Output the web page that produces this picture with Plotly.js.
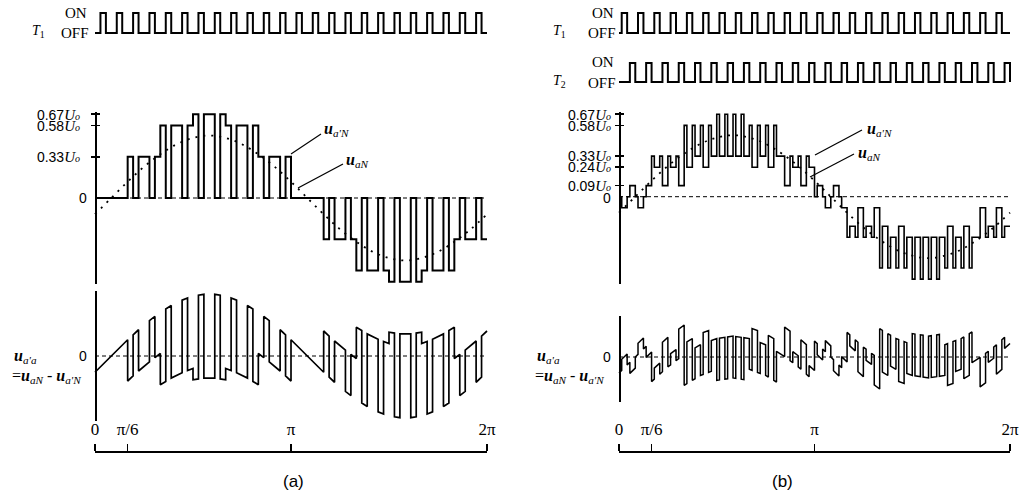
<!DOCTYPE html>
<html><head><meta charset="utf-8">
<script src="https://cdn.plot.ly/plotly-3.0.1.min.js"></script>
<style>html,body{margin:0;padding:0;background:#fff}</style>
</head><body><div id="chart" style="width:1022px;height:498px"></div>
<script>
// ---------- values (angle in degrees, voltage in units of Uo) ----------
const sectorStart = [0, 30, 60, 90, 120, 150, 180, 210, 240, 270, 300, 330];

// panel (a): switch T1 ON/OFF instants
const aT1on  = [5, 20, 35, 50, 65, 80, 95, 110, 125, 140, 155, 170, 185, 200, 215, 230, 245, 260, 275, 290, 305, 320, 335, 350];
const aT1off = [10, 25, 40, 55, 70, 85, 100, 115, 130, 145, 160, 175, 190, 205, 220, 235, 250, 265, 280, 295, 310, 325, 340, 355];
// panel (a): u_a'N level in each 30° sector, T1 OFF / T1 ON
const aLevelOff = [0, 0.33, 0.58, 0.67, 0.58, 0.33, 0, -0.33, -0.58, -0.67, -0.58, -0.33];
const aLevelT1  = [0, 0, 0, 0, 0, 0, 0, 0, 0, 0, 0, 0];

// panel (b): switches T1 and T2 ON/OFF instants
const bT1on  = [2.5, 17.5, 32.5, 47.5, 62.5, 77.5, 92.5, 107.5, 122.5, 137.5, 152.5, 167.5, 182.5, 197.5, 212.5, 227.5, 242.5, 257.5, 272.5, 287.5, 302.5, 317.5, 332.5, 347.5];
const bT1off = [7.5, 22.5, 37.5, 52.5, 67.5, 82.5, 97.5, 112.5, 127.5, 142.5, 157.5, 172.5, 187.5, 202.5, 217.5, 232.5, 247.5, 262.5, 277.5, 292.5, 307.5, 322.5, 337.5, 352.5];
const bT2on  = [10, 25, 40, 55, 70, 85, 100, 115, 130, 145, 160, 175, 190, 205, 220, 235, 250, 265, 280, 295, 310, 325, 340, 355];
const bT2off = [15, 30, 45, 60, 75, 90, 105, 120, 135, 150, 165, 180, 195, 210, 225, 240, 255, 270, 285, 300, 315, 330, 345, 360];
// panel (b): u_a'N level in each sector: both OFF / T1 ON / T2 ON
const bLevelOff = [0, 0.33, 0.58, 0.67, 0.58, 0.33, 0, -0.33, -0.58, -0.67, -0.58, -0.33];
const bLevelT1  = [-0.09, 0.24, 0.24, 0.33, 0.24, 0.09, 0.09, -0.24, -0.24, -0.33, -0.24, -0.09];
const bLevelT2  = [0.09, 0.09, 0.33, 0.33, 0.33, 0.24, -0.09, -0.09, -0.33, -0.33, -0.33, -0.24];

// dotted u_aN read every 15°
const uaNdeg = [0, 15, 30, 45, 60, 75, 90, 105, 120, 135, 150, 165, 180, 195, 210, 225, 240, 255, 270, 285, 300, 315, 330, 345, 360];
const uaNval = [-0.13, 0, 0.13, 0.25, 0.35, 0.43, 0.48, 0.5, 0.48, 0.43, 0.35, 0.25, 0.13, 0, -0.13, -0.25, -0.35, -0.43, -0.48, -0.5, -0.48, -0.43, -0.35, -0.25, -0.13];

// axis labels
const xTickVals = [0, 30, 180, 360];
const xTickText = ['0', 'π/6', 'π', '2π'];
const aYTicks = [0.33, 0.58, 0.67];
const bYTicks = [0.09, 0.24, 0.33, 0.58, 0.67];

// ---------- helpers ----------
const W = 1022, H = 498;
const fx = p => p / W, fy = p => 1 - p / H;
const dom = (top, bot) => [fy(bot), fy(top)];
const pad = 3, kA = 392 / 360, kB = 391 / 360;

function isOn(t, on, off) { for (let i = 0; i < on.length; i++) if (t > on[i] && t < off[i]) return true; return false; }
function sectorOf(t) { let s = 0; for (let i = 0; i < sectorStart.length; i++) if (t >= sectorStart[i]) s = i; return s; }
function edgesOf(...lists) { const set = new Set([0, 360]); lists.forEach(l => l.forEach(v => set.add(v))); return [...set].sort((a, b) => a - b); }
function uaNat(t) { let i = Math.min(Math.floor(t / 15), uaNdeg.length - 2); const f = (t - uaNdeg[i]) / (uaNdeg[i + 1] - uaNdeg[i]); return uaNval[i] + (uaNval[i + 1] - uaNval[i]) * f; }
function steps(edges, level) { const xs = [], ys = []; for (let i = 0; i < edges.length - 1; i++) { xs.push(edges[i]); ys.push(level((edges[i] + edges[i + 1]) / 2)); } xs.push(360); ys.push(ys[ys.length - 1]); return { xs, ys }; }
// u_a'a = u_aN - u_a'N (relation given in the chart)
function diff(edges, level) { const xs = [], ys = []; for (let i = 0; i < edges.length - 1; i++) { const t0 = edges[i], t1 = edges[i + 1], L = level((t0 + t1) / 2); xs.push(t0, t1); ys.push(uaNat(t0) - L, uaNat(t1) - L); } return { xs, ys }; }
function pulse(on, off) { const xs = [0], ys = [0]; for (let i = 0; i < on.length; i++) { xs.push(on[i], off[i]); ys.push(1, 0); } if (xs[xs.length - 1] < 360) { xs.push(360); ys.push(0); } return { xs, ys }; }

const aLevel = t => { const s = sectorOf(t); return isOn(t, aT1on, aT1off) ? aLevelT1[s] : aLevelOff[s]; };
const bLevel = t => { const s = sectorOf(t); if (isOn(t, bT1on, bT1off)) return bLevelT1[s]; if (isOn(t, bT2on, bT2off)) return bLevelT2[s]; return bLevelOff[s]; };
const aEdges = edgesOf(sectorStart, aT1on, aT1off);
const bEdges = edgesOf(sectorStart, bT1on, bT1off, bT2on, bT2off);

const aStep = steps(aEdges, aLevel), bStep = steps(bEdges, bLevel);
const aDiff = diff(aEdges, aLevel), bDiff = diff(bEdges, bLevel);
const pA1 = pulse(aT1on, aT1off), pB1 = pulse(bT1on, bT1off), pB2 = pulse(bT2on, bT2off);

const K = '#000';
const sq = (p, xa, ya, w) => ({ x: p.xs, y: p.ys, xaxis: xa, yaxis: ya, mode: 'lines', line: { color: K, width: w || 2, shape: 'hv' }, hoverinfo: 'skip' });
const dotted = (xa, ya) => ({ x: uaNdeg, y: uaNval, xaxis: xa, yaxis: ya, mode: 'lines', line: { color: K, width: 1.8, dash: '2px,6px', shape: 'spline', smoothing: 1 }, hoverinfo: 'skip' });
const empty = (xa, ya) => ({ x: [], y: [], xaxis: xa, yaxis: ya, mode: 'lines', hoverinfo: 'skip' });

const traces = [
  sq(pA1, 'x', 'y'),
  dotted('x', 'y2'),
  sq(aStep, 'x', 'y2', 2),
  { x: aDiff.xs, y: aDiff.ys, xaxis: 'x', yaxis: 'y3', mode: 'lines', line: { color: K, width: 1.7 }, hoverinfo: 'skip' },
  sq(pB1, 'x2', 'y4'),
  sq(pB2, 'x2', 'y5'),
  dotted('x2', 'y6'),
  sq(bStep, 'x2', 'y6', 1.6),
  { x: bDiff.xs, y: bDiff.ys, xaxis: 'x2', yaxis: 'y7', mode: 'lines', line: { color: K, width: 1.5 }, hoverinfo: 'skip' },
  empty('x3', 'y8'), empty('x4', 'y8'), empty('x', 'y9'), empty('x2', 'y10')
];

const yLab = v => `<span style="font-family:Liberation Sans;font-size:14px">${v.toFixed(2)}</span><i>U</i><span style="font-size:10px"><i>o</i></span>`;
const tickFont = { family: 'Liberation Serif', size: 15, color: K };
const hidden = { visible: false, fixedrange: true };
const xA = Object.assign({ domain: [fx(95 - pad * kA), fx(487 + pad * kA)], range: [-pad, 360 + pad] }, hidden);
const xB = Object.assign({ domain: [fx(619 - pad * kB), fx(1010 + pad * kB)], range: [-pad, 360 + pad] }, hidden);
const bracket = (d) => ({ domain: d, range: [0, 360], anchor: 'y8', side: 'top', showline: true, linecolor: K, linewidth: 1.6, ticks: 'outside', ticklen: 7, tickwidth: 1.6, tickcolor: K, tickvals: xTickVals, ticktext: xTickText, tickfont: { family: 'Liberation Serif', size: 17, color: K }, ticklabelstandoff: 3, showgrid: false, zeroline: false, fixedrange: true });
const yLine = (d, r, pos, extra) => Object.assign({ domain: d, range: r, anchor: 'free', position: pos, showline: true, linecolor: K, linewidth: 1.6, showgrid: false, zeroline: false, fixedrange: true, ticks: '', showticklabels: false }, extra || {});

const rA2 = [-(284 - 198) / 125, (198 - 112) / 125];
const rB6 = [-(284 - 196.7) / 123, (196.7 - 112) / 123];
const midTicks = (vals, standoff) => ({ ticks: 'outside', ticklen: 4, tickwidth: 1.6, tickcolor: K, tickvals: vals, ticktext: vals.map(yLab), showticklabels: true, tickfont: tickFont, ticklabelstandoff: standoff });
const overlayTicks = (over, r, pos, vals) => ({ overlaying: over, range: r, anchor: 'free', position: pos, showline: false, showgrid: false, zeroline: false, ticks: 'inside', ticklen: 4, tickwidth: 1.6, tickcolor: K, tickvals: vals, showticklabels: false, fixedrange: true });

const layout = {
  width: W, height: H, margin: { l: 0, r: 0, t: 0, b: 0 }, showlegend: false,
  paper_bgcolor: '#fff', plot_bgcolor: 'rgba(0,0,0,0)',
  xaxis: xA, xaxis2: xB,
  xaxis3: bracket([fx(95), fx(487)]), xaxis4: bracket([fx(619), fx(1010)]),
  yaxis: Object.assign({ domain: dom(6, 40), range: [-0.35, 1.35], anchor: 'x' }, hidden),
  yaxis2: yLine(dom(112, 284), rA2, fx(95), midTicks(aYTicks, 8)),
  yaxis3: yLine(dom(291, 421), [-(421 - 356) / 125, (356 - 291) / 125], fx(95)),
  yaxis4: Object.assign({ domain: dom(6, 40), range: [-0.35, 1.35], anchor: 'x2' }, hidden),
  yaxis5: Object.assign({ domain: dom(56, 89), range: [-7 / 19, 1 + 7 / 19], anchor: 'x2' }, hidden),
  yaxis6: yLine(dom(112, 284), rB6, fx(619), midTicks(bYTicks, 1)),
  yaxis7: yLine(dom(316, 402), [-(402 - 357) / 123, (357 - 316) / 123], fx(619)),
  yaxis8: Object.assign({ domain: dom(453, 454), range: [0, 1], anchor: 'x3' }, hidden),
  yaxis9: overlayTicks('y2', rA2, fx(95), aYTicks),
  yaxis10: overlayTicks('y6', rB6, fx(619), bYTicks),
  shapes: [
    { type: 'line', xref: 'x', yref: 'y2', x0: 0, x1: 360, y0: 0, y1: 0, layer: 'below', line: { color: K, width: 1, dash: '4px,3px' } },
    { type: 'line', xref: 'x', yref: 'y3', x0: 0, x1: 360, y0: 0, y1: 0, layer: 'below', line: { color: K, width: 1, dash: '4px,3px' } },
    { type: 'line', xref: 'x2', yref: 'y6', x0: 0, x1: 360, y0: 0, y1: 0, layer: 'below', line: { color: K, width: 1, dash: '4px,3px' } },
    { type: 'line', xref: 'x2', yref: 'y7', x0: 0, x1: 360, y0: 0, y1: 0, layer: 'below', line: { color: K, width: 1, dash: '4px,3px' } },
    // label pointers
    { type: 'line', xref: 'paper', yref: 'paper', x0: fx(291), y0: fy(154), x1: fx(321), y1: fy(134), line: { color: K, width: 1.2 } },
    { type: 'line', xref: 'paper', yref: 'paper', x0: fx(298), y0: fy(188), x1: fx(343), y1: fy(164), line: { color: K, width: 1.2 } },
    { type: 'line', xref: 'paper', yref: 'paper', x0: fx(815), y0: fy(155), x1: fx(862), y1: fy(130), line: { color: K, width: 1.2 } },
    { type: 'line', xref: 'paper', yref: 'paper', x0: fx(810), y0: fy(177), x1: fx(854), y1: fy(154), line: { color: K, width: 1.2 } }
  ],
  annotations: []
};

const serif = (size) => ({ family: 'Liberation Serif', size: size, color: K });
const sans = { family: 'Liberation Sans', size: 14, color: K };
const ann = (text, x, y, xanchor, font, extra) => Object.assign({ text, x: fx(x), y: fy(y), xref: 'paper', yref: 'paper', xanchor, yanchor: 'middle', showarrow: false, font }, extra || {});
const U = (sub) => `<b><i>u</i></b><sub><i>${sub}</i></sub>`;
layout.annotations.push(
  ann('<i>T</i><sub>1</sub>', 38, 31, 'center', serif(14)),
  ann('ON', 89, 13, 'right', serif(15)),
  ann('OFF', 91, 33.5, 'right', serif(15)),
  ann('<i>T</i><sub>1</sub>', 559, 31, 'center', serif(14)),
  ann('ON', 616, 13, 'right', serif(15)),
  ann('OFF', 618, 33.5, 'right', serif(15)),
  ann('<i>T</i><sub>2</sub>', 559, 81, 'center', serif(14)),
  ann('ON', 616, 62, 'right', serif(15)),
  ann('OFF', 618, 82.5, 'right', serif(15)),
  // zero labels
  Object.assign(ann('0', 89, 0, 'right', sans), { yref: 'y2', y: 0 }),
  Object.assign(ann('0', 613, 0, 'right', sans), { yref: 'y6', y: 1 / 123 * -1 }),
  Object.assign(ann('0', 89, 0, 'right', sans), { yref: 'y3', y: 0 }),
  Object.assign(ann('0', 613, 0, 'right', sans), { yref: 'y7', y: 0 }),
  // curve labels
  ann(U("a'N"), 322, 129, 'left', serif(16)),
  ann(U('aN'), 344, 160, 'left', serif(16)),
  ann(U("a'N"), 865, 129, 'left', serif(16)),
  ann(U('aN'), 856, 153, 'left', serif(16)),
  // u_a'a labels
  ann(U("a'a"), 12, 356, 'left', serif(16)),
  ann('=' + U('aN') + ' - ' + U("a'N"), 10, 376, 'left', serif(16)),
  ann(U("a'a"), 535, 356, 'left', serif(16)),
  ann('=' + U('aN') + ' - ' + U("a'N"), 533, 376, 'left', serif(16)),
  // panel captions
  ann('(a)', 293, 481, 'center', { family: 'Liberation Sans', size: 17, color: K }),
  ann('(b)', 782, 481, 'center', { family: 'Liberation Sans', size: 17, color: K })
);

Plotly.newPlot('chart', traces, layout, { displayModeBar: false, staticPlot: true });
</script></body></html>
